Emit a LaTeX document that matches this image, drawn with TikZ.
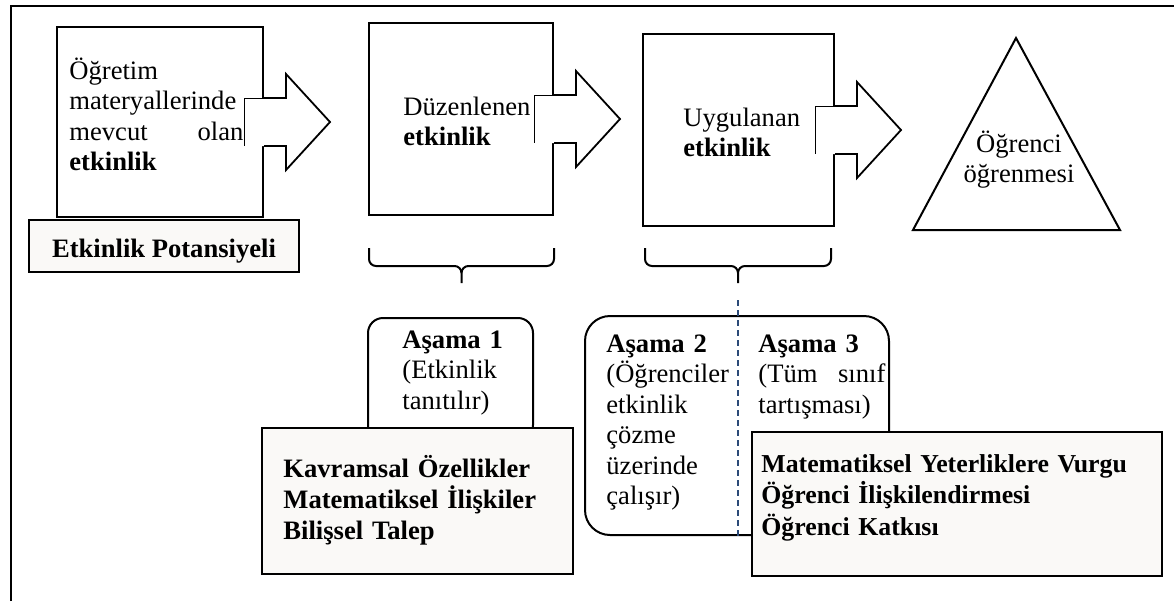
\documentclass[tikz,border=0pt]{standalone}
\usepackage{fontspec}
\setmainfont{Liberation Serif}
\usepackage{tikz}
\usetikzlibrary{calc}
\definecolor{paper}{HTML}{FAF9F7}
\definecolor{dashblue}{HTML}{2B4A78}

\begin{document}
\begin{tikzpicture}[x=0.5pt,y=-0.5pt,
  frame/.style={line width=1.2pt},
  box/.style={draw,line width=1pt,fill=white,inner sep=0pt},
  shade/.style={box,fill=paper},
  stage/.style={box,rounded corners=7.5pt},
  txt/.style={anchor=north west,inner sep=0pt,align=left,text width=100pt,font=\fontsize{13.3}{15.25}\selectfont,execute at begin node={\rule{0pt}{12pt}}},
  txtb/.style={txt,text width=210pt,font=\bfseries\fontsize{13.3}{15.6}\selectfont},
  outline/.style={line width=0.9pt,line join=miter},
  notch/.style={line width=0.5pt},
  bracket/.style={line width=1pt},
  dashline/.style={draw=dashblue,line width=0.6pt,dash pattern=on 3pt off 2pt}
]
\useasboundingbox (0,0) rectangle (1174,601);
\draw[frame] (11,601) -- (11,6) -- (1174,6);

% activity boxes
\node[box,minimum width=103pt,minimum height=95pt] (b1) at (160,122) {};
\node[box,minimum width=92pt,minimum height=96pt] (b2) at (461,119) {};
\node[box,minimum width=95.5pt,minimum height=96pt] (b3) at (738.5,130) {};
\node[shade,line width=0.8pt,minimum width=135pt,minimum height=26pt,font=\bfseries\fontsize{13.3}{15.25}\selectfont,text height=14pt,text depth=3pt] (pot) at (164,246) {Etkinlik Potansiyeli};

% block arrows
\foreach \b in {b1,b2,b3}{
  \begin{scope}[shift={(\b.east)}]
    \fill[white] (-20,-24) -- (22,-24) -- (22,-48) -- (66,0) -- (22,48) -- (22,24) -- (-20,24) -- cycle;
    \draw[outline] (0,-24) -- (22,-24) -- (22,-48) -- (66,0) -- (22,48) -- (22,24) -- (0,24);
    \draw[notch] (0,-24) -- (-20,-24) -- (-20,24);
  \end{scope}
}

\node[txt,text width=87pt] (t1) at (69,55) {Öğretim\\materyallerinde\\mevcut\hfill olan\\\textbf{etkinlik}};
\node[txt] (t2) at (403,91) {Düzenlenen\\\textbf{etkinlik}};
\node[txt] (t3) at (683,102) {Uygulanan\\\textbf{etkinlik}};

% student learning
\draw[line width=1pt] (913,230) -- (1016,38) -- (1120,230) -- cycle;
\node[txt,anchor=north,text width=80pt,align=center] (learn) at (1019,128) {Öğrenci\\öğrenmesi};

% braces
\foreach \l/\r in {369/554,645/831}{
  \pgfmathsetmacro\m{(\l+\r)/2}
  \draw[bracket] (\l,248) -- (\l,259) to[out=-90,in=180] (\l+7,266) -- (\m-7,266) to[out=0,in=90] (\m,273) -- (\m,283);
  \draw[bracket] (\m,273) to[out=90,in=180] (\m+7,266) -- (\r-7,266) to[out=0,in=-90] (\r,259) -- (\r,248);
}
\coordinate (tip3) at (738,283);

% stages
\node[stage,minimum width=82.5pt,minimum height=61pt] (s1) at (450.5,379) {};
\node[stage,rounded corners=12.5pt,minimum width=152pt,minimum height=109.5pt] (s23) at (737,425.5) {};
\draw[dashline] ([yshift=-8.5pt]tip3) -- (tip3 |- s23.south);

\node[shade,minimum width=155.5pt,minimum height=73pt] (k) at (417.5,501) {};
\node[shade,minimum width=205pt,minimum height=72pt] (m) at (957,504) {};

\node[txt] (a1) at (402,324) {\textbf{Aşama 1}\\(Etkinlik\\tanıtılır)};
\node[txt] (a2) at (606,328) {\textbf{Aşama 2}\\(Öğrenciler\\etkinlik\\çözme\\üzerinde\\çalışır)};
\node[txt,text width=63.5pt] (a3) at (758,328) {\textbf{Aşama 3}\\(Tüm\hfill sınıf\\tartışması)};
\node[txtb] (kt) at (283,453) {Kavramsal Özellikler\\Matematiksel İlişkiler\\Bilişsel Talep};
\node[txtb,font=\bfseries\fontsize{12.9}{15.75}\selectfont] (mt) at (761,448) {Matematiksel Yeterliklere Vurgu\\Öğrenci İlişkilendirmesi\\Öğrenci Katkısı};
\end{tikzpicture}
\end{document}
